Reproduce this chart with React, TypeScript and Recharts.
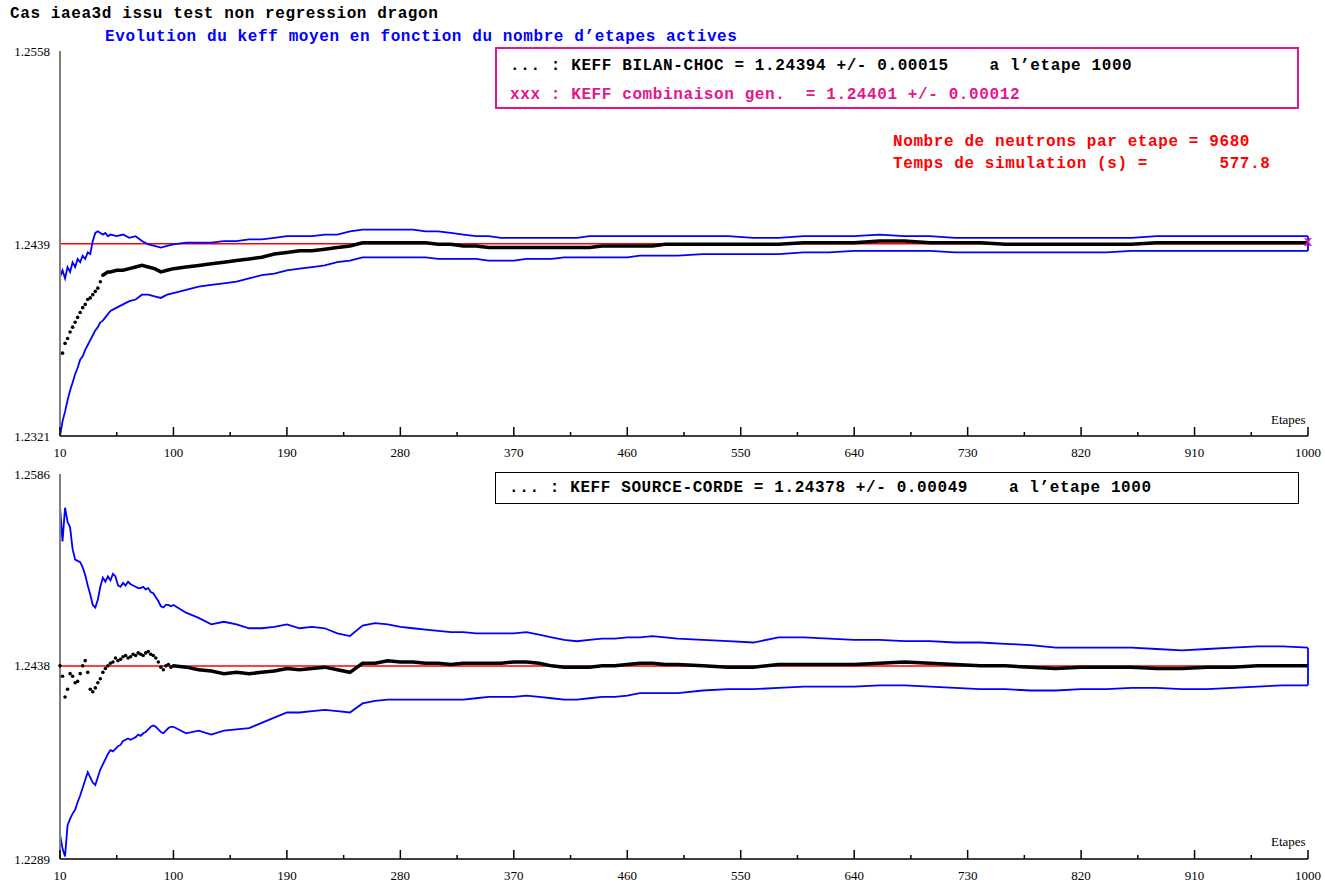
import { ComposedChart, Line, XAxis, YAxis, ReferenceLine, ReferenceDot } from 'recharts';

// --- top panel : KEFF BILAN-CHOC ---
const topSteps = [
  10, 12, 14, 16, 18, 20, 22, 24, 26, 28, 30, 32, 34, 36, 38, 40, 42, 44, 46, 48, 50,
  55, 60, 65, 70, 75, 80, 85, 90, 95, 100,
  110, 120, 130, 140, 150, 160, 170, 180, 190, 200, 210, 220, 230, 240, 250, 260, 270, 280, 290, 300,
  310, 320, 330, 340, 350, 360, 370, 380, 390, 400, 410, 420, 430, 440, 450, 460, 470, 480, 490, 500,
  520, 540, 560, 580, 600, 620, 640, 660, 680, 700, 720, 740, 760, 780, 800, 820, 840, 860, 880, 900,
  920, 940, 960, 980, 1000,
];
const topUpper = [
  1.2419, 1.2423, 1.2418, 1.2425, 1.2422, 1.2428, 1.2425, 1.2430, 1.2428, 1.2432, 1.2430, 1.2434, 1.2433, 1.2441, 1.2446, 1.2447, 1.2446, 1.2445, 1.2446, 1.2444, 1.2445,
  1.2444, 1.2445, 1.2443, 1.2444, 1.2441, 1.2439, 1.2438, 1.2437, 1.2438, 1.2439,
  1.2440, 1.2440, 1.2440, 1.2441, 1.2441, 1.2442, 1.2442, 1.2443, 1.2444, 1.2444,
  1.2444, 1.2445, 1.2445, 1.2447, 1.2448, 1.2448, 1.2448, 1.2448, 1.2448, 1.2447,
  1.2447, 1.2446, 1.2445, 1.2444, 1.2444, 1.2443, 1.2443, 1.2443, 1.2443, 1.2443,
  1.2443, 1.2443, 1.2444, 1.2444, 1.2444, 1.2444, 1.2444, 1.2444, 1.2444, 1.2444,
  1.2444, 1.2444, 1.2443, 1.2443, 1.2444, 1.2444, 1.2444, 1.2445, 1.2444, 1.2444,
  1.2443, 1.2443, 1.2443, 1.2443, 1.2443, 1.2443, 1.2443, 1.2443, 1.2444, 1.2444,
  1.2444, 1.2444, 1.2444, 1.2444, 1.2444,
];
const topMean = [
  null, 1.2372, 1.2378, 1.2381, 1.2385, 1.2388, 1.2391, 1.2394, 1.2397, 1.2400, 1.2402, 1.2405, 1.2406, 1.2408, 1.2410, 1.2412, 1.2416, 1.2420, 1.2421, 1.2422, 1.2422,
  1.2423, 1.2423, 1.2424, 1.2425, 1.2426, 1.2425, 1.2424, 1.2422, 1.2423, 1.2424,
  1.2425, 1.2426, 1.2427, 1.2428, 1.2429, 1.2430, 1.2431, 1.2433, 1.2434, 1.2435,
  1.2435, 1.2436, 1.2437, 1.2438, 1.2440, 1.2440, 1.2440, 1.2440, 1.2440, 1.2440,
  1.2439, 1.2439, 1.2438, 1.2438, 1.2437, 1.2437, 1.2437, 1.2437, 1.2437, 1.2437,
  1.2437, 1.2437, 1.2437, 1.2438, 1.2438, 1.2438, 1.2438, 1.2438, 1.2439, 1.2439,
  1.2439, 1.2439, 1.2439, 1.2439, 1.2440, 1.2440, 1.2440, 1.2441, 1.2441, 1.2440,
  1.2440, 1.2440, 1.2439, 1.2439, 1.2439, 1.2439, 1.2439, 1.2439, 1.2440, 1.2440,
  1.2440, 1.2440, 1.2440, 1.2440, 1.2440,
];
const topLower = [
  1.2321, 1.2330, 1.2336, 1.2343, 1.2349, 1.2354, 1.2359, 1.2363, 1.2368, 1.2370, 1.2374, 1.2377, 1.2380, 1.2383, 1.2386, 1.2388, 1.2391, 1.2392, 1.2394, 1.2396, 1.2398,
  1.2400, 1.2402, 1.2404, 1.2405, 1.2408, 1.2408, 1.2407, 1.2406, 1.2408, 1.2409,
  1.2411, 1.2413, 1.2414, 1.2415, 1.2416, 1.2418, 1.2420, 1.2421, 1.2423, 1.2424,
  1.2425, 1.2426, 1.2428, 1.2429, 1.2431, 1.2431, 1.2431, 1.2431, 1.2431, 1.2431,
  1.2430, 1.2430, 1.2430, 1.2430, 1.2429, 1.2429, 1.2429, 1.2430, 1.2430, 1.2430,
  1.2431, 1.2431, 1.2431, 1.2431, 1.2431, 1.2431, 1.2432, 1.2432, 1.2432, 1.2432,
  1.2433, 1.2433, 1.2433, 1.2433, 1.2434, 1.2434, 1.2435, 1.2435, 1.2435, 1.2435,
  1.2434, 1.2434, 1.2434, 1.2434, 1.2434, 1.2434, 1.2434, 1.2435, 1.2435, 1.2435,
  1.2435, 1.2435, 1.2435, 1.2435, 1.2435,
];
const topTicks = [1.2321, 1.2439, 1.2558];
const topKeff = 1.24394;
const combinedKeff = 1.24401;

// --- bottom panel : KEFF SOURCE-CORDE ---
const bottomSteps = [
  10, 12, 14, 16, 18, 20, 22, 24, 26, 28, 30, 32, 34, 36, 38, 40, 42, 44, 46, 48,
  50, 52, 54, 56, 58, 60, 62, 64, 66, 68, 70, 72, 74, 76, 78, 80, 82, 84, 86, 88,
  90, 92, 94, 96, 98, 100,
  110, 120, 130, 140, 150, 160, 170, 180, 190, 200, 210, 220, 230, 240, 250, 260, 270, 280, 290, 300,
  310, 320, 330, 340, 350, 360, 370, 380, 390, 400, 410, 420, 430, 440, 450, 460, 470, 480, 490, 500,
  520, 540, 560, 580, 600, 620, 640, 660, 680, 700, 720, 740, 760, 780, 800, 820, 840, 860, 880, 900,
  920, 940, 960, 980, 1000,
];
const bottomUpper = [
  1.2561, 1.2534, 1.2560, 1.2549, 1.2545, 1.2528, 1.2520, 1.2519, 1.2518, 1.2514, 1.2508, 1.2500, 1.2493, 1.2485, 1.2483, 1.2489, 1.2499, 1.2506, 1.2503, 1.2507,
  1.2504, 1.2509, 1.2507, 1.2500, 1.2499, 1.2502, 1.2500, 1.2503, 1.2501, 1.2500, 1.2499, 1.2498, 1.2498, 1.2499, 1.2497, 1.2498, 1.2495, 1.2494, 1.2491, 1.2488,
  1.2484, 1.2483, 1.2485, 1.2485, 1.2484, 1.2485,
  1.2479, 1.2475, 1.2470, 1.2472, 1.2470, 1.2467, 1.2467, 1.2468, 1.2470, 1.2467,
  1.2468, 1.2467, 1.2463, 1.2461, 1.2469, 1.2471, 1.2470, 1.2468, 1.2467, 1.2466,
  1.2465, 1.2464, 1.2464, 1.2463, 1.2463, 1.2463, 1.2463, 1.2464, 1.2462, 1.2460,
  1.2458, 1.2457, 1.2458, 1.2459, 1.2459, 1.2460, 1.2460, 1.2461, 1.2460, 1.2459,
  1.2458, 1.2457, 1.2456, 1.2460, 1.2460, 1.2459, 1.2458, 1.2458, 1.2457, 1.2457,
  1.2456, 1.2456, 1.2455, 1.2454, 1.2452, 1.2452, 1.2452, 1.2452, 1.2451, 1.2450,
  1.2451, 1.2452, 1.2453, 1.2453, 1.2452,
];
const bottomMean = [
  1.2438, 1.2430, 1.2414, 1.2420, 1.2432, 1.2430, 1.2425, 1.2426, 1.2432, 1.2438, 1.2442, 1.2433, 1.2420, 1.2418, 1.2421, 1.2425, 1.2428, 1.2433, 1.2436, 1.2438,
  1.2440, 1.2441, 1.2444, 1.2442, 1.2443, 1.2445, 1.2446, 1.2444, 1.2445, 1.2447, 1.2446, 1.2448, 1.2447, 1.2446, 1.2448, 1.2449, 1.2447, 1.2446, 1.2444, 1.2441,
  1.2437, 1.2435, 1.2438, 1.2439, 1.2437, 1.2438,
  1.2437, 1.2435, 1.2434, 1.2432, 1.2433, 1.2432, 1.2433, 1.2434, 1.2436, 1.2435,
  1.2436, 1.2437, 1.2435, 1.2433, 1.2440, 1.2440, 1.2442, 1.2441, 1.2441, 1.2440,
  1.2440, 1.2439, 1.2440, 1.2440, 1.2440, 1.2440, 1.2441, 1.2441, 1.2440, 1.2438,
  1.2437, 1.2437, 1.2437, 1.2438, 1.2438, 1.2439, 1.2440, 1.2440, 1.2439, 1.2439,
  1.2438, 1.2437, 1.2437, 1.2439, 1.2439, 1.2439, 1.2439, 1.2440, 1.2441, 1.2440,
  1.2439, 1.2438, 1.2438, 1.2437, 1.2436, 1.2437, 1.2437, 1.2437, 1.2436, 1.2436,
  1.2437, 1.2437, 1.2438, 1.2438, 1.2438,
];
const bottomLower = [
  1.2308, 1.2297, 1.2291, 1.2315, 1.2320, 1.2324, 1.2327, 1.2333, 1.2338, 1.2344, 1.2350, 1.2356, 1.2352, 1.2348, 1.2346, 1.2352, 1.2358, 1.2362, 1.2366, 1.2370,
  1.2373, 1.2372, 1.2374, 1.2376, 1.2377, 1.2380, 1.2381, 1.2382, 1.2381, 1.2382, 1.2383, 1.2385, 1.2384, 1.2386, 1.2387, 1.2389, 1.2391, 1.2392, 1.2391, 1.2389,
  1.2387, 1.2386, 1.2388, 1.2390, 1.2391, 1.2391,
  1.2386, 1.2388, 1.2385, 1.2388, 1.2389, 1.2390, 1.2394, 1.2398, 1.2402, 1.2402,
  1.2403, 1.2404, 1.2403, 1.2402, 1.2409, 1.2411, 1.2412, 1.2412, 1.2412, 1.2412,
  1.2412, 1.2412, 1.2412, 1.2413, 1.2414, 1.2414, 1.2414, 1.2415, 1.2414, 1.2413,
  1.2412, 1.2412, 1.2413, 1.2414, 1.2414, 1.2415, 1.2417, 1.2417, 1.2417, 1.2417,
  1.2419, 1.2420, 1.2420, 1.2421, 1.2422, 1.2422, 1.2422, 1.2423, 1.2423, 1.2422,
  1.2421, 1.2420, 1.2420, 1.2419, 1.2419, 1.2420, 1.2420, 1.2421, 1.2421, 1.2420,
  1.2420, 1.2421, 1.2422, 1.2423, 1.2423,
];
const bottomTicks = [1.2289, 1.2438, 1.2586];
const bottomKeff = 1.24378;

const stepTicks = [10, 55, 100, 145, 190, 235, 280, 325, 370, 415, 460, 505, 550, 595, 640, 685, 730, 775, 820, 865, 910, 955, 1000];

const BLUE = '#0000ff';
const MAGENTA = '#e4168c';
const MONO = '"Liberation Mono", "DejaVu Sans Mono", monospace';
const SERIF = '"Liberation Serif", "DejaVu Serif", serif';

// early points are drawn as loose dots, the rest as a thick black trace
function buildRows(steps: number[], upper: number[], mean: (number | null)[], lower: number[], dotsUntil: number) {
  return steps.map((step, i) => ({
    step,
    upper: upper[i],
    lower: lower[i],
    dots: step <= dotsUntil ? mean[i] : null,
    mean: step >= dotsUntil ? mean[i] : null,
  }));
}

const topRows = buildRows(topSteps, topUpper, topMean, topLower, 44);
const bottomRows = buildRows(bottomSteps, bottomUpper, bottomMean, bottomLower, 100);

const StepTick = (props: any) => {
  const { x, y, payload } = props;
  const major = (payload.value - 10) % 90 === 0;
  return (
    <g>
      <line x1={x} x2={x} y1={y} y2={y - (major ? 9 : 4)} stroke="#000" strokeWidth={1.5} />
      {major && (
        <text x={x} y={y + 21} textAnchor="middle" fontSize={13} fontFamily={SERIF} fill="#000">
          {payload.value}
        </text>
      )}
    </g>
  );
};

const XMark = (props: any) => (
  <text x={props.cx} y={props.cy + 3} textAnchor="middle" fontSize={14} fontFamily={MONO} fontWeight="bold" fill={MAGENTA}>
    x
  </text>
);

type PanelProps = {
  rows: any[];
  domain: [number, number];
  ticks: number[];
  keff: number;
  top: number;
  height: number;
  marginTop: number;
  axisHeight: number;
  mark?: number;
};

function KeffPanel({ rows, domain, ticks, keff, top, height, marginTop, axisHeight, mark }: PanelProps) {
  const last = rows[rows.length - 1];
  return (
    <div style={{ position: 'absolute', left: 0, top }}>
      <ComposedChart width={1325} height={height} data={rows} margin={{ top: marginTop, right: 17, bottom: 0, left: 0 }}>
        <XAxis
          dataKey="step"
          type="number"
          domain={[10, 1000]}
          ticks={stepTicks}
          interval={0}
          height={axisHeight}
          tickSize={0}
          tickMargin={0}
          tickLine={false}
          axisLine={{ stroke: '#000', strokeWidth: 1.5 }}
          tick={(p: any) => <StepTick {...p} />}
        />
        <YAxis
          type="number"
          domain={domain}
          ticks={ticks}
          allowDataOverflow
          width={60}
          tickSize={0}
          tickMargin={10}
          tickLine={false}
          axisLine={{ stroke: '#808080', strokeWidth: 2 }}
          tick={{ fill: '#000', fontSize: 13, fontFamily: SERIF }}
          tickFormatter={(v: number) => v.toFixed(4)}
        />
        <ReferenceLine y={keff} stroke="#ff0000" strokeWidth={1.5} />
        <Line type="linear" dataKey="upper" stroke={BLUE} strokeWidth={1.8} dot={false} activeDot={false} isAnimationActive={false} />
        <Line type="linear" dataKey="lower" stroke={BLUE} strokeWidth={1.8} dot={false} activeDot={false} isAnimationActive={false} />
        <Line type="linear" dataKey="mean" stroke="#000" strokeWidth={3.5} dot={false} activeDot={false} isAnimationActive={false} />
        <Line
          type="linear"
          dataKey="dots"
          stroke="none"
          dot={{ r: 1.8, fill: '#000', stroke: 'none' }}
          activeDot={false}
          isAnimationActive={false}
        />
        <ReferenceLine
          segment={[{ x: 1000, y: last.upper }, { x: 1000, y: last.lower }]}
          stroke={BLUE}
          strokeWidth={1.8}
        />
        {mark !== undefined && <ReferenceDot x={1000} y={mark} r={0} shape={(p: any) => <XMark {...p} />} />}
      </ComposedChart>
    </div>
  );
}

const abs = (left: number, top: number, extra: any = {}) => ({
  position: 'absolute' as const,
  left,
  top,
  whiteSpace: 'pre' as const,
  ...extra,
});

export default function App() {
  const mono = { fontFamily: MONO, fontWeight: 'bold', fontSize: 16, letterSpacing: '0.6px', lineHeight: '19px' };
  return (
    <div style={{ position: 'absolute', left: 0, top: 0, width: 1325, height: 888, background: '#fff', overflow: 'hidden' }}>
      <KeffPanel rows={topRows} domain={[1.2321, 1.2558]} ticks={topTicks} keff={topKeff} top={0} height={460} marginTop={51} axisHeight={24} mark={combinedKeff} />
      <KeffPanel rows={bottomRows} domain={[1.2289, 1.2586]} ticks={bottomTicks} keff={bottomKeff} top={460} height={428} marginTop={14} axisHeight={29} />

      <div style={abs(10, 5, { ...mono, color: '#000' })}>Cas iaea3d issu test non regression dragon</div>
      <div style={abs(105, 28, { ...mono, color: BLUE })}>Evolution du keff moyen en fonction du nombre d’etapes actives</div>

      <div style={abs(495, 47, { width: 804, height: 62, border: `2px solid ${MAGENTA}`, boxSizing: 'border-box' })}>
        <div style={abs(13, 8, { ...mono, color: '#000' })}>... : KEFF BILAN-CHOC = 1.24394 +/- 0.00015    a l’etape 1000</div>
        <div style={abs(13, 37, { ...mono, color: MAGENTA })}>xxx : KEFF combinaison gen.  = 1.24401 +/- 0.00012</div>
      </div>

      <div style={abs(893, 133, { ...mono, color: '#ff0000' })}>Nombre de neutrons par etape = 9680</div>
      <div style={abs(893, 155, { ...mono, color: '#ff0000' })}>Temps de simulation (s) =       577.8</div>

      <div style={abs(495, 472, { width: 804, height: 32, border: '1.5px solid #000', boxSizing: 'border-box' })}>
        <div style={abs(13, 6, { ...mono, color: '#000' })}>... : KEFF SOURCE-CORDE = 1.24378 +/- 0.00049    a l’etape 1000</div>
      </div>

      <div style={abs(1271, 412, { fontFamily: SERIF, fontSize: 13, color: '#000' })}>Etapes</div>
      <div style={abs(1271, 834, { fontFamily: SERIF, fontSize: 13, color: '#000' })}>Etapes</div>
    </div>
  );
}
